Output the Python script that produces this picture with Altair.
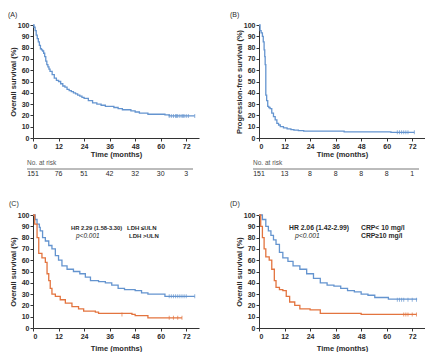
import altair as alt
import pandas as pd

# ---------------- data ----------------
ticks_x = [0, 12, 24, 36, 48, 60, 72]
ticks_y = [0, 10, 20, 30, 40, 50, 60, 70, 80, 90, 100]

# Panel A: overall survival (all patients)
a_time = [0, 0.5, 1, 1.5, 2, 2.5, 3, 3.5, 4, 4.5, 5, 5.5, 6, 6.5, 7, 7.5, 8, 9, 10, 11, 12, 13, 14, 15, 16,
          17, 18, 19, 20, 21, 22, 23, 24, 26, 28, 30, 32, 34, 36, 38, 40, 42, 44, 46, 48, 50, 52, 54, 56, 58,
          60, 62, 64, 76]
a_surv = [100, 98, 95, 91, 88, 85, 82, 79, 78, 77, 75, 72, 68, 65, 63, 61, 59, 56, 53, 51, 50, 48, 46, 45, 43,
          42, 41, 40, 39, 38, 37, 36, 35, 33, 31, 30, 29, 28, 28, 27, 26, 25, 25, 24, 23, 22, 22, 21, 21, 21,
          21, 20.5, 19.5, 19.5]
a_cens = [64, 65, 66, 67, 67.5, 68, 69, 70, 70.5, 71, 72, 73, 76]
a_cens_s = 19.5
a_risk = [151, 76, 51, 42, 32, 30, 3]

# Panel B: progression-free survival
b_time = [0, 0.5, 1, 1.6, 2, 2.4, 2.7, 2.9, 3.2, 3.6, 4.1, 4.6, 5.2, 6, 6.8, 7.6, 8.4, 9.2, 10, 11.5, 13.2,
          15, 16.4, 18.5, 21, 40, 62, 73]
b_surv = [100, 95, 93, 90, 85, 78, 72, 65, 38, 33, 28, 27, 26, 22, 19, 16, 13, 11.5, 10, 9, 8, 7.5, 7, 6.5,
          6, 5.5, 5, 5]
b_cens = [65, 66, 67, 68, 69, 70, 73]
b_cens_s = 5
b_risk = [151, 13, 8, 8, 8, 8, 1]

# Panel C: overall survival by LDH
c1_time = [0, 1, 1.9, 3, 3.4, 4.5, 5.8, 7.4, 8.9, 10.5, 12, 13.6, 16, 19, 22, 24.6, 27, 30.8, 34, 37, 40, 43,
           48, 51, 54, 62, 76]
c1_surv = [100, 96, 92, 89, 86, 80, 77, 73, 70, 64, 60, 55, 52, 50, 48, 45, 42, 41, 40, 38, 35, 34, 33, 31,
           30, 28, 28]
c1_cens = [64, 65, 66, 67, 68, 69, 70, 71, 72, 76]
c1_cens_s = 28
c2_time = [0, 0.8, 1.9, 2.7, 4.2, 5.8, 6.6, 7.4, 8.1, 8.9, 10.5, 12.8, 15.2, 18.3, 21.4, 23.8, 29.3, 30.8,
           46.5, 48, 54, 70]
c2_surv = [100, 92, 80, 66, 62, 58, 48, 42, 35, 30, 28, 25, 22, 19, 17, 15, 14, 13, 12, 11, 9, 9]
c2_cens = [41.8, 64, 66, 68, 70]
c2_cens_s = [12, 9, 9, 9, 9]

# Panel D: overall survival by CRP
d1_time = [0, 1.6, 3.2, 4.4, 5.6, 6.8, 8, 9.6, 11.2, 13.6, 16, 19.2, 22.4, 25.6, 28.8, 32, 35.2, 38.4, 41.6,
           44.8, 48, 51.2, 54.4, 60.8, 74]
d1_surv = [100, 96, 90, 86, 82, 78, 74, 67, 62, 59, 55, 52, 48, 44, 40, 38, 37, 35, 33, 32, 30, 29, 27, 25.5,
           25]
d1_cens = [65, 66, 67, 68, 70, 72, 74]
d1_cens_s = 25
d2_time = [0, 0.8, 1.6, 2.4, 3.2, 4.8, 6, 7.2, 8, 9.6, 11.2, 12.8, 14.4, 16.8, 19.2, 24, 28.8, 46.4, 48, 74]
d2_surv = [100, 90, 80, 70, 63, 60, 52, 42, 36, 34, 33, 28, 23, 20, 17, 16, 13, 13, 12, 12]
d2_cens = [68, 69, 70, 72, 74]
d2_cens_s = 12

# ---------------- style ----------------
W, H = 166, 113
BLUE = "#6494cf"
ORANGE = "#e3743f"
FONT = "Liberation Sans"
INK = "#2a2a2a"


def xenc(tp=1):
    return alt.X("t:Q", scale=alt.Scale(domain=[0, 78], nice=False, zero=True),
                 axis=alt.Axis(values=ticks_x, title="Time (months)", titlePadding=tp))


def yenc(title):
    return alt.Y("s:Q", scale=alt.Scale(domain=[0, 100], nice=False),
                 axis=alt.Axis(values=ticks_y, title=title))


def curve(time, surv, color, ytitle, tp=1):
    df = pd.DataFrame({"t": time, "s": surv})
    return alt.Chart(df).mark_line(interpolate="step-after", color=color, strokeWidth=1.3).encode(
        x=xenc(tp), y=yenc(ytitle))


def censor(times, surv, color, ytitle, tp=1):
    if not isinstance(surv, list):
        surv = [surv] * len(times)
    df = pd.DataFrame({"t": times, "s": surv})
    return alt.Chart(df).mark_tick(orient="vertical", color=color, size=4, thickness=1).encode(
        x=xenc(tp), y=yenc(ytitle))


def label(txt, dx, dy, size=7.5, weight="normal", align="left", style=None, color=INK):
    kw = dict(align=align, baseline="middle", font=FONT, fontSize=size, fontWeight=weight, color=color)
    if style:
        kw["fontStyle"] = style
    return alt.Chart(alt.Data(values=[{"l": txt}])).mark_text(**kw).encode(
        x=alt.value(dx), y=alt.value(dy), text="l:N")


def risk_table(counts):
    df = pd.DataFrame({"t": ticks_x, "n": [str(c) for c in counts]})
    nums = alt.Chart(df).mark_text(font=FONT, fontSize=7, color=INK, baseline="middle").encode(
        x=xenc(), y=alt.value(H + 36), text="n:N")
    rule = alt.Chart(alt.Data(values=[{"a": 1}])).mark_rule(color="#555", strokeWidth=0.8).encode(
        x=alt.value(-6), x2=alt.value(160), y=alt.value(H + 31))
    head = label("No. at risk", -6, H + 25, size=6.5, color="#555")
    return [nums, rule, head]


yt_os = "Overall survival (%)"
yt_pfs = "Progression-free survival (%)"
TPB = 5  # title padding of the lower panels' x axes

panel_a = alt.layer(
    curve(a_time, a_surv, BLUE, yt_os),
    censor(a_cens, a_cens_s, BLUE, yt_os),
    *risk_table(a_risk),
    label("(A)", -25, -10, size=7),
).properties(width=W, height=H)

panel_b = alt.layer(
    curve(b_time, b_surv, BLUE, yt_pfs),
    censor(b_cens, b_cens_s, BLUE, yt_pfs),
    *risk_table(b_risk),
    label("(B)", -29, -10, size=7),
).properties(width=W, height=H)

panel_c = alt.layer(
    curve(c1_time, c1_surv, BLUE, yt_os, TPB),
    curve(c2_time, c2_surv, ORANGE, yt_os, TPB),
    censor(c1_cens, c1_cens_s, BLUE, yt_os, TPB),
    censor(c2_cens, c2_cens_s, ORANGE, yt_os, TPB),
    label("HR 2.29 (1.58-3.30)", 38, 13, size=5.8, weight="bold"),
    label("p<0.001", 43, 21, size=6.5, style="italic"),
    label("LDH \u2264ULN", 94, 13, size=6, weight="bold"),
    label("LDH >ULN", 96, 21, size=6, weight="bold"),
    label("(C)", -24, -11, size=7),
).properties(width=W, height=H)

panel_d = alt.layer(
    curve(d1_time, d1_surv, BLUE, yt_os, TPB),
    curve(d2_time, d2_surv, ORANGE, yt_os, TPB),
    censor(d1_cens, d1_cens_s, BLUE, yt_os, TPB),
    censor(d2_cens, d2_cens_s, ORANGE, yt_os, TPB),
    label("HR 2.06 (1.42-2.99)", 30, 13, size=6.8, weight="bold"),
    label("p<0.001", 36, 21, size=6.8, style="italic"),
    label("CRP< 10 mg/l", 102, 13, size=6.8, weight="bold"),
    label("CRP\u226510 mg/l", 102, 21, size=6.8, weight="bold"),
    label("(D)", -29, -11, size=7),
).properties(width=W, height=H)

chart = alt.concat(
    panel_a, panel_b, panel_c, panel_d, columns=2,
    spacing=alt.RowColnumber(row=77, column=60), bounds="flush",
).properties(
    padding={"left": 0, "top": 3, "right": 0, "bottom": 0}
).configure_view(stroke=None).configure_axis(
    grid=False, labelFont=FONT, titleFont=FONT, labelFontSize=7, titleFontSize=7.5,
    labelFontWeight="bold", titleFontWeight="bold", labelColor=INK, titleColor=INK,
    domainColor="#333", tickColor="#333", tickSize=3, domainWidth=1, tickWidth=1,
    labelPadding=1, titlePadding=0, labelOverlap=False,
)

chart.save("out.html", embed_options={"renderer": "svg", "actions": False})
